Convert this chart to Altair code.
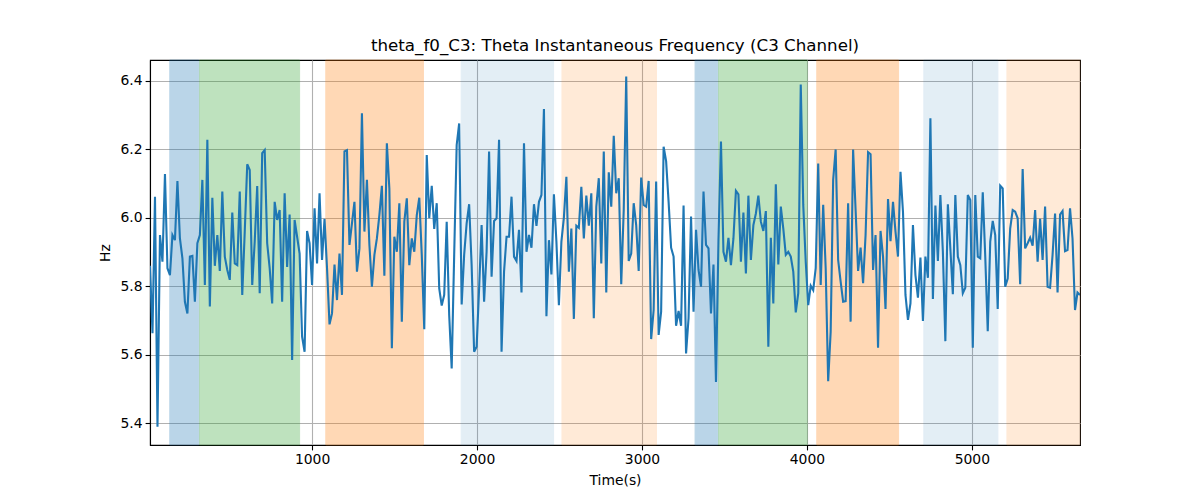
import altair as alt
import numpy as np
import pandas as pd

# Theta instantaneous frequency (Hz), read left to right off the trace
hz_a = [5.86, 5.663, 6.062, 5.390, 5.950, 5.872, 6.128, 5.853, 5.833, 5.950, 5.935, 6.108,
        5.940, 5.882, 5.755, 5.721, 5.887, 5.889, 5.755, 5.926, 5.950, 6.111, 5.804, 6.228,
        5.741, 6.059, 5.860, 5.950, 5.845, 6.077, 5.887, 5.848, 5.819, 6.016, 5.867, 5.862,
        6.077, 5.775, 5.960, 6.157, 6.140, 5.804, 5.931, 6.093, 5.780, 6.189, 6.198, 5.926]
hz_b = [5.853, 5.750, 6.047, 5.994, 6.023, 5.755, 6.072, 5.857, 6.010, 5.585, 5.994, 5.945,
        5.896, 5.653, 5.609, 5.962, 5.926, 5.804, 6.028, 5.867, 6.072, 5.877, 5.997, 5.853,
        5.689, 5.721, 5.864, 5.760, 5.896, 5.775, 6.194, 6.198, 5.921, 5.984, 6.047, 5.843,
        5.911, 6.306, 5.960, 6.111, 5.921, 5.799, 5.892, 5.940, 6.008, 6.094, 5.831, 6.218]
hz_c = [6.086, 5.619, 5.945, 5.901, 6.043, 5.697, 5.989, 6.057, 5.862, 5.940, 5.901, 6.008,
        6.059, 5.892, 5.675, 6.184, 5.999, 6.094, 5.968, 6.043, 5.794, 5.744, 5.775, 5.989,
        5.716, 5.560, 5.892, 6.213, 6.276, 5.747, 5.892, 5.984, 6.040, 5.862, 5.609, 5.624,
        5.794, 5.979, 5.755, 5.901, 6.194, 5.828, 5.991, 5.999, 6.228, 5.609, 5.843, 5.945,
        5.945]
hz_d = [6.062, 5.887, 5.874, 5.965, 5.782, 6.218, 5.901, 5.950, 5.913, 6.040, 5.977, 6.047,
        6.067, 6.318, 5.713, 5.935, 5.835, 6.069, 5.931, 5.745, 5.931, 6.001, 6.120, 5.843,
        5.969, 5.705, 5.977, 5.971, 6.091, 5.940, 6.065, 5.977, 6.072, 5.707, 6.033, 6.116,
        5.867, 6.194, 5.782, 6.133, 6.033, 6.240, 6.072, 6.116, 5.806, 6.023, 6.413, 5.874,
        5.896]
hz_e = [6.043, 5.979, 5.845, 6.118, 6.038, 6.033, 6.108, 5.646, 5.731, 6.106, 5.658, 5.726,
        6.208, 6.166, 6.047, 5.913, 5.887, 5.685, 5.728, 5.685, 6.036, 5.604, 5.707, 6.004,
        5.726, 5.965, 5.848, 5.799, 6.077, 5.921, 5.911, 5.721, 5.864, 5.521, 5.935, 6.223,
        5.901, 5.872, 5.942, 5.862, 5.940, 6.079, 6.069, 5.872, 6.016, 5.838, 6.065, 5.877]
hz_f = [5.979, 6.013, 6.065, 5.989, 5.962, 6.020, 5.624, 5.942, 5.750, 6.098, 5.864, 6.033,
        5.969, 5.892, 5.901, 5.887, 5.843, 5.724, 5.780, 6.390, 6.038, 5.872, 5.745, 5.802,
        5.789, 5.853, 6.159, 5.804, 6.038, 5.853, 5.523, 5.668, 6.111, 6.200, 5.877, 5.814,
        5.755, 5.757, 6.043, 5.697, 6.200, 6.023, 5.845, 5.913, 5.809, 5.950, 6.192, 6.186,
        5.848]
hz_g = [5.950, 5.621, 5.962, 5.887, 5.734, 6.055, 5.932, 6.047, 5.960, 5.887, 6.135, 6.018,
        5.775, 5.702, 5.750, 5.979, 5.833, 5.767, 5.884, 5.699, 5.887, 5.825, 6.291, 5.763,
        6.036, 5.874, 6.067, 5.901, 5.640, 6.040, 5.911, 5.777, 6.067, 5.887, 5.862, 5.780,
        5.796, 6.067, 6.052, 5.621, 6.067, 5.887, 5.882, 6.075, 5.887, 5.669, 5.931, 5.991]
hz_h = [5.950, 5.734, 6.094, 6.086, 5.799, 5.823, 5.969, 6.023, 6.018, 5.999, 5.806, 6.143,
        5.911, 5.926, 5.942, 5.919, 6.023, 5.872, 5.997, 5.877, 6.033, 5.799, 5.796, 5.892,
        6.013, 5.782, 6.010, 6.020, 5.903, 5.906, 6.028, 5.940, 5.731, 5.782, 5.775]

hz = hz_a + hz_b + hz_c + hz_d + hz_e + hz_f + hz_g + hz_h
t_first, t_last = 17, 5656
time_s = np.linspace(t_first, t_last, len(hz))

# shaded epochs
span_start = [137, 317, 1083, 1904, 2515, 3322, 3464, 4060, 4709, 5213]
span_end = [313, 924, 1675, 2464, 3088, 3460, 4002, 4556, 5158, 5700]
span_color = ['#1f77b4', '#2ca02c', '#ff7f0e', '#1f77b4', '#ff7f0e',
              '#1f77b4', '#2ca02c', '#ff7f0e', '#1f77b4', '#ff7f0e']
span_alpha = [0.3, 0.3, 0.3, 0.12, 0.16, 0.3, 0.3, 0.3, 0.12, 0.16]

trace = pd.DataFrame({'Time': time_s, 'Hz': hz})
spans = pd.DataFrame({'start': span_start, 'end': span_end,
                      'color': span_color, 'alpha': span_alpha})

x_scale = alt.Scale(domain=[t_first, t_last], nice=False, zero=False, clamp=True)
y_scale = alt.Scale(domain=[5.3366, 6.4613], nice=False, zero=False)

bands = alt.Chart(spans).mark_rect(strokeWidth=1).encode(
    x=alt.X('start:Q', scale=x_scale),
    x2='end:Q',
    color=alt.Color('color:N', scale=None),
    stroke=alt.Stroke('color:N', scale=None),
    opacity=alt.Opacity('alpha:Q', scale=None)
)

line = alt.Chart(trace).mark_line(color='#1f77b4', strokeWidth=2.1, clip=True).encode(
    x=alt.X('Time:Q', scale=x_scale, title='Time(s)',
            axis=alt.Axis(values=[1000, 2000, 3000, 4000, 5000], format='d',
                          titlePadding=7)),
    y=alt.Y('Hz:Q', scale=y_scale, title='Hz',
            axis=alt.Axis(values=[5.4, 5.6, 5.8, 6.0, 6.2, 6.4], format='.1f',
                          titlePadding=8))
)

chart = alt.layer(bands, line).properties(
    width=930,
    height=385,
    autosize=alt.AutoSizeParams(type='none'),
    padding={'left': 142, 'top': 52, 'right': 104, 'bottom': 47},
    title=alt.TitleParams(
        text='theta_f0_C3: Theta Instantaneous Frequency (C3 Channel)',
        font='DejaVu Sans',
        fontSize=16.7,
        fontWeight='normal',
        color='black',
        anchor='middle',
        offset=5
    )
).configure_view(
    stroke='black',
    strokeWidth=1.1
).configure_axis(
    labelFont='DejaVu Sans',
    titleFont='DejaVu Sans',
    labelFontSize=13.9,
    titleFontSize=13.9,
    titleFontWeight='normal',
    labelColor='black',
    titleColor='black',
    domainColor='black',
    domainWidth=1.1,
    tickColor='black',
    tickSize=4.9,
    tickWidth=1.1,
    labelPadding=3,
    gridColor='#b0b0b0',
    gridWidth=1.1,
    gridOpacity=1
)

chart.save("out.html", embed_options={"renderer": "svg", "actions": False})
